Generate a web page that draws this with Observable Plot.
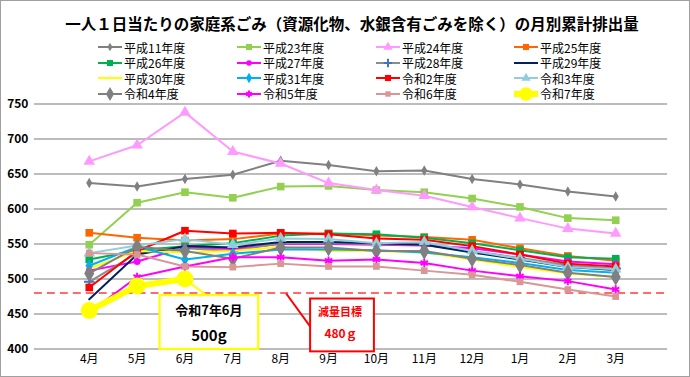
<!DOCTYPE html>
<html>
<head>
<meta charset="utf-8">
<script src="https://cdn.jsdelivr.net/npm/d3@7"></script>
<script src="https://cdn.jsdelivr.net/npm/@observablehq/plot@0.6"></script>
<style>
  html, body { margin: 0; padding: 0; background: #fff; }
  #wrap { position: relative; width: 690px; height: 377px; box-sizing: border-box; border: 1px solid #a0a0a0; overflow: hidden; font-family: 'Noto Sans CJK JP', sans-serif; }
  #title { position: absolute; top: 11px; left: 12px; width: 678px; text-align: center; font-weight: bold; font-size: 15.5px; color: #000; white-space: nowrap; }
  .lg { position: absolute; display: flex; align-items: center; font-size: 12px; color: #000; white-space: nowrap; height: 14px; }
  .lg svg { margin-right: 2px; overflow: visible; }
  #chart { position: absolute; left: -1px; top: 94px; }
</style>
</head>
<body>
<div id="wrap">
  <div id="title">一人１日当たりの家庭系ごみ（資源化物、水銀含有ごみを除く）の月別累計排出量</div>
  <div id="legend"></div>
  <div id="chart"></div>
</div>
<script>
const months = ["4月","5月","6月","7月","8月","9月","10月","11月","12月","1月","2月","3月"];
const yTicks = [400, 450, 500, 550, 600, 650, 700, 750];
const target = 480;

const seriesNames = ["平成11年度","平成23年度","平成24年度","平成25年度","平成26年度","平成27年度","平成28年度","平成29年度","平成30年度","平成31年度","令和2年度","令和3年度","令和4年度","令和5年度","令和6年度","令和7年度"];

const h11 = [637,632,643,649,669,663,654,655,643,635,625,618];
const h23 = [549,609,624,616,632,633,627,624,615,603,587,584];
const h24 = [668,691,738,682,665,637,627,619,603,587,572,565];
const h25 = [566,559,555,557,565,565,562,560,556,544,533,526];
const h26 = [528,541,547,551,562,565,564,559,551,541,531,529];
const h27 = [512,525,545,543,550,550,549,548,544,535,525,521];
const h28 = [496,537,544,540,551,551,550,549,540,530,520,515];
const h29 = [471,535,547,545,553,553,551,549,538,528,517,513];
const h30 = [515,540,538,540,546,540,540,538,528,517,508,503];
const h31 = [519,546,528,536,542,542,541,538,531,523,513,509];
const r2  = [488,540,569,565,566,564,558,556,547,535,522,518];
const r3  = [537,548,557,549,558,557,551,553,540,529,517,514];
const r4  = [508,546,540,529,545,545,540,540,529,520,509,503];
const r5  = [452,503,518,531,531,526,528,523,512,504,497,485];
const r6  = [537,535,518,517,522,518,518,512,506,496,485,475];
const r7  = [455,490,500];

const values = [h11,h23,h24,h25,h26,h27,h28,h29,h30,h31,r2,r3,r4,r5,r6,r7];

// styles per series
const styles = [
  {line:"#808080", mark:"#808080", sym:"diamond", r:3.2, w:2},
  {line:"#92D050", mark:"#92D050", sym:"square", r:4.3, w:2},
  {line:"#FF99FF", mark:"#FF99FF", sym:"triangle", r:4.3, w:2},
  {line:"#FF6600", mark:"#FF6600", sym:"square", r:4.3, w:2},
  {line:"#00B050", mark:"#00B050", sym:"square", r:4.3, w:2},
  {line:"#FF00FF", mark:"#FF00FF", sym:"circle", r:3.5, w:2},
  {line:"#8C8C8C", mark:"#4472C4", sym:"plus", r:3.5, w:2, stroke:true},
  {line:"#002060", mark:"#002060", sym:null, r:0, w:2},
  {line:"#FFFF00", mark:"#FFFF00", sym:null, r:0, w:2},
  {line:"#00B0F0", mark:"#00B0F0", sym:"diamond", r:4, w:2},
  {line:"#FF0000", mark:"#FF0000", sym:"square", r:4.3, w:2},
  {line:"#92CDDC", mark:"#92CDDC", sym:"triangle", r:4.3, w:2},
  {line:"#808080", mark:"#808080", sym:"diamond", r:5.3, w:2},
  {line:"#FF00FF", mark:"#FF00FF", sym:"asterisk", r:4, w:2, stroke:true},
  {line:"#DA9694", mark:"#DA9694", sym:"square", r:3.8, w:2},
  {line:"#FFFF00", mark:"#FFFF00", sym:"circle", r:8.5, w:6}
];

const rows = [];
seriesNames.forEach((s, i) => {
  values[i].forEach((v, j) => rows.push({series: s, month: months[j], value: v}));
});

// Legend
const d3sym = {diamond: d3.symbolDiamond, square: d3.symbolSquare, triangle: d3.symbolTriangle, circle: d3.symbolCircle, plus: d3.symbolPlus, asterisk: d3.symbolAsterisk};
const legend = document.getElementById("legend");
const colX = [97, 236, 375, 513];
const rowY = [39, 54.5, 70, 85.5];
seriesNames.forEach((s, i) => {
  const st = styles[i];
  const div = document.createElement("div");
  div.className = "lg";
  div.style.left = colX[i % 4] + "px";
  div.style.top = rowY[Math.floor(i / 4)] + "px";
  let svg = `<svg width="24" height="14"><line x1="0" x2="24" y1="7" y2="7" stroke="${st.line}" stroke-width="${st.w}"/>`;
  if (st.sym) {
    const lr = st.r * 0.8;
    const p = d3.symbol().type(d3sym[st.sym]).size(Math.PI * lr * lr)();
    svg += st.stroke
      ? `<path d="${p}" transform="translate(12,7)" fill="none" stroke="${st.mark}" stroke-width="2"/>`
      : `<path d="${p}" transform="translate(12,7)" fill="${st.mark}"/>`;
  }
  svg += `</svg>`;
  div.innerHTML = svg + `<span>${s}</span>`;
  legend.appendChild(div);
});

// Chart
const seriesMarks = [];
seriesNames.forEach((s, i) => {
  const st = styles[i];
  const data = rows.filter(d => d.series === s);
  seriesMarks.push(Plot.line(data, {x: "month", y: "value", stroke: st.line, strokeWidth: st.w}));
  if (st.sym) {
    seriesMarks.push(st.stroke
      ? Plot.dot(data, {x: "month", y: "value", symbol: st.sym, r: st.r, stroke: st.mark, strokeWidth: 2, fill: "none"})
      : Plot.dot(data, {x: "month", y: "value", symbol: st.sym, r: st.r, fill: st.mark, stroke: "none"}));
  }
});

const chart = Plot.plot({
  width: 691,
  height: 283,
  marginLeft: 34,
  marginRight: 22,
  marginTop: 8.5,
  marginBottom: 28.7,
  x: {type: "point", domain: months, range: [60, 646], label: null},
  y: {domain: [400, 750], label: null},
  style: {fontFamily: "'Noto Sans CJK JP', sans-serif", fontSize: "12px", color: "#000", background: "transparent", overflow: "visible"},
  marks: [
    Plot.gridY(yTicks, {stroke: "#A6A6A6", strokeOpacity: 1, strokeWidth: 1.6}),
    Plot.ruleY([target], {stroke: "#FF3B3B", strokeWidth: 1.6, strokeDasharray: "8,5"}),
    ...seriesMarks,
    Plot.axisY(yTicks, {tickSize: 0, tickPadding: 6, fontWeight: "bold", fontSize: 12}),
    Plot.axisX({tickSize: 0, tickPadding: 5, fontSize: 12})
  ]
});
document.getElementById("chart").appendChild(chart);

// Annotations
const sx = chart.scale("x"), sy = chart.scale("y");
const svg = d3.select(chart);
const g = svg.append("g");
const x6 = sx.apply("6月"), y500 = sy.apply(500), y480 = sy.apply(target);
const x8 = sx.apply("8月");

// yellow callout
g.append("line").attr("x1", x6).attr("y1", y500).attr("x2", x6 + 21).attr("y2", y480 + 2)
  .attr("stroke", "#FFFF00").attr("stroke-width", 2);
const yb = {x: x6 - 25, y: y480 + 2.5, w: 99, h: 54};
g.append("rect").attr("x", yb.x).attr("y", yb.y).attr("width", yb.w).attr("height", yb.h)
  .attr("fill", "#fff").attr("stroke", "#FFFF00").attr("stroke-width", 2.2);
g.append("text").attr("x", yb.x + yb.w / 2).attr("y", yb.y + 15).attr("text-anchor", "middle").attr("dominant-baseline", "central")
  .attr("font-weight", "bold").attr("font-size", 13).text("令和7年6月");
g.append("text").attr("x", yb.x + yb.w / 2).attr("y", yb.y + 40).attr("text-anchor", "middle").attr("dominant-baseline", "central")
  .attr("font-weight", "bold").attr("font-size", 15).text("500g");

// red callout
g.append("line").attr("x1", x8 + 6).attr("y1", y480 + 1).attr("x2", x8 + 30).attr("y2", y480 + 34)
  .attr("stroke", "#FF0000").attr("stroke-width", 2);
const rb = {x: x8 + 30, y: y480 + 6, w: 64, h: 53};
g.append("rect").attr("x", rb.x).attr("y", rb.y).attr("width", rb.w).attr("height", rb.h)
  .attr("fill", "#fff").attr("stroke", "#FF0000").attr("stroke-width", 2);
g.append("text").attr("x", rb.x + rb.w / 2 - 2).attr("y", rb.y + 13).attr("text-anchor", "middle").attr("dominant-baseline", "central")
  .attr("font-weight", "bold").attr("font-size", 11).attr("fill", "#FF0000").text("減量目標");
g.append("text").attr("x", rb.x + rb.w / 2 - 1).attr("y", rb.y + 34).attr("text-anchor", "middle").attr("dominant-baseline", "central")
  .attr("font-weight", "bold").attr("font-size", 12).attr("fill", "#FF0000").text("480ｇ");
</script>
</body>
</html>
